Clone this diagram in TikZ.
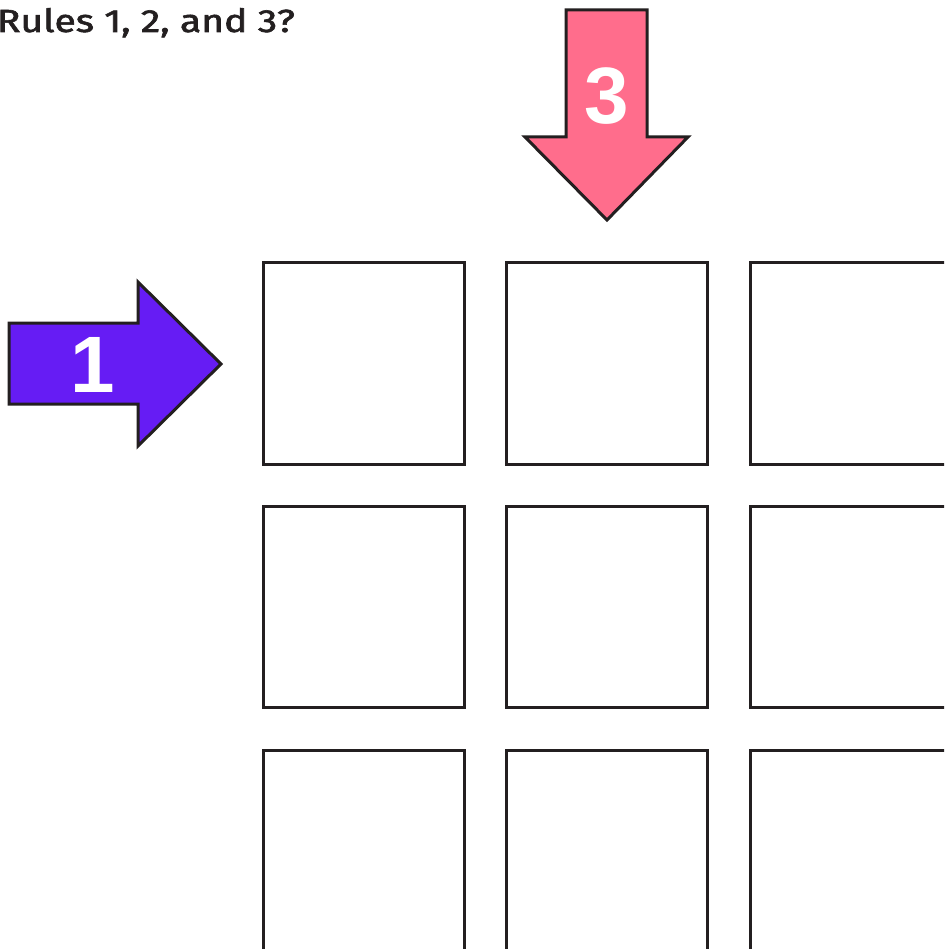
\documentclass[tikz,border=0pt]{standalone}
\usepackage{fontspec}
\setmainfont{Fira Sans}
\newfontfamily\titlefont[FakeBold=1.8]{Fira Sans}
\newfontfamily\numfont{Liberation Sans}
\definecolor{strokec}{HTML}{231F20}
\definecolor{purplec}{HTML}{661CF4}
\definecolor{pinkc}{HTML}{FF6D8C}
\begin{document}
\begin{tikzpicture}[x=1pt,y=-1pt,
  cell/.style={draw=strokec,line width=3pt,fill=white,minimum width=201pt,minimum height=201pt,inner sep=0pt},
  arrowshape/.style={draw=strokec,line width=3pt,line join=miter},
  numlabel/.style={text=white,font=\numfont\bfseries\fontsize{80}{80}\selectfont,inner sep=0pt}]
\useasboundingbox (0,0) rectangle (944,949);
\clip (0,0) rectangle (944,949);
\fill[white] (0,0) rectangle (944,949);
% title
\node[anchor=base east,inner sep=0pt,text=strokec] (title) at (295,32) {\scalebox{1.22}[1]{\titlefont\fontsize{32}{32}\selectfont Rules 1, 2, and 3?}};
% grid
\foreach \c/\x in {1/363.5,2/607,3/851}{
  \foreach \r/\y in {1/363.5,2/606.5,3/851}{
    \node[cell] (c\r\c) at (\x,\y) {};
  }
}
% arrow 1
\draw[arrowshape,fill=purplec] (9,323) -- (138,323) -- (138,282) -- (221,364) -- (138,446) -- (138,404) -- (9,404) -- cycle;
\node[numlabel] (n1) at (93,365) {1};
% arrow 3
\draw[arrowshape,fill=pinkc] (566,10) -- (647,10) -- (647,137) -- (688,137) -- (607,220) -- (525,137) -- (566,137) -- cycle;
\node[numlabel] (n3) at (607,96) {3};
\end{tikzpicture}
\end{document}
